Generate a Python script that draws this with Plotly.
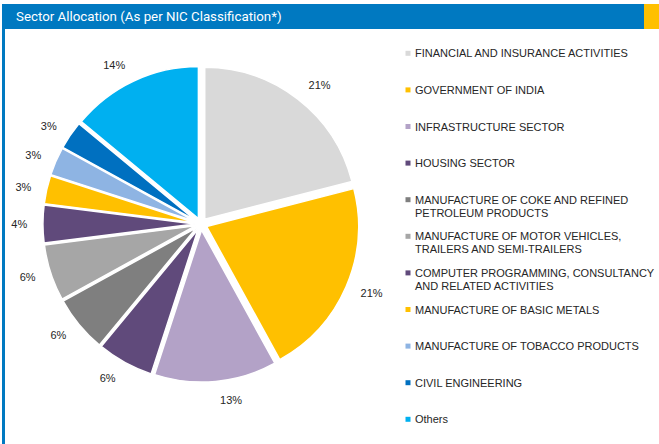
import plotly.graph_objects as go

# Sector allocation data (percent of portfolio)
sectors = [
    "FINANCIAL AND INSURANCE ACTIVITIES",
    "GOVERNMENT OF INDIA",
    "INFRASTRUCTURE SECTOR",
    "HOUSING SECTOR",
    "MANUFACTURE OF COKE AND REFINED<br>PETROLEUM PRODUCTS",
    "MANUFACTURE OF MOTOR VEHICLES,<br>TRAILERS AND SEMI-TRAILERS",
    "COMPUTER PROGRAMMING, CONSULTANCY<br>AND RELATED ACTIVITIES",
    "MANUFACTURE OF BASIC METALS",
    "MANUFACTURE OF TOBACCO PRODUCTS",
    "CIVIL ENGINEERING",
    "Others",
]
shares = [21, 21, 13, 6, 6, 6, 4, 3, 3, 3, 14]
colors = [
    "#D9D9D9", "#FFC000", "#B3A2C7", "#604A7B", "#7F7F7F", "#A6A6A6",
    "#604A7B", "#FFC000", "#8EB4E3", "#0070C0", "#00B0F0",
]

W, H = 659, 444
BLUE = "#0079C1"
TEXT = "#262626"
PULL = 0.04
CX, CY = 201, 224      # pie centre in pixels
R_PIE = 152            # pie radius in pixels
R_TEXT = 164           # radius of the ring the percentage labels sit outside


def px(x):
    return x / W


def py(y):
    return 1 - y / H


def domain_for(radius):
    half = radius * (1 + PULL)
    return dict(x=[px(CX - half), px(CX + half)], y=[py(CY + half), py(CY - half)])


fig = go.Figure()
# coloured slices
fig.add_trace(go.Pie(
    labels=sectors,
    values=shares,
    sort=False,
    direction="clockwise",
    rotation=0,
    marker=dict(colors=colors, line=dict(color="white", width=1.5)),
    pull=[PULL] * len(shares),
    textinfo="none",
    domain=domain_for(R_PIE),
    showlegend=False,
    automargin=False,
    hoverinfo="label+percent",
))
# percentage labels, set slightly further out than the slices
fig.add_trace(go.Pie(
    labels=sectors,
    values=shares,
    sort=False,
    direction="clockwise",
    rotation=0,
    marker=dict(colors=["rgba(0,0,0,0)"] * len(shares), line=dict(width=0)),
    pull=[PULL] * len(shares),
    textinfo="percent",
    textposition="outside",
    textfont=dict(family="Liberation Sans, Arial", size=11, color=TEXT),
    domain=domain_for(R_TEXT),
    showlegend=False,
    automargin=False,
    hoverinfo="skip",
))

shapes = [
    # header bar
    dict(type="rect", xref="paper", yref="paper", x0=px(2), x1=px(644),
         y0=py(29), y1=py(4), fillcolor=BLUE, line=dict(width=0), layer="below"),
    dict(type="rect", xref="paper", yref="paper", x0=px(644), x1=px(659),
         y0=py(29), y1=py(4), fillcolor="#FFC000", line=dict(width=0), layer="below"),
    # left frame line
    dict(type="rect", xref="paper", yref="paper", x0=px(2), x1=px(5),
         y0=py(444), y1=py(29), fillcolor=BLUE, line=dict(width=0), layer="below"),
]

annotations = [
    dict(text="Sector Allocation (As per NIC Classification*)",
         xref="paper", yref="paper", x=px(14), y=py(17), xanchor="left",
         yanchor="middle", showarrow=False,
         font=dict(family="Roboto", size=13.3, color="white")),
]

# legend, drawn as rows of square swatch + text
first_row = 53.3
row_step = 36.6
line_step = 12.8
for i, (name, col) in enumerate(zip(sectors, colors)):
    yc = first_row + i * row_step
    shapes.append(dict(type="rect", xref="paper", yref="paper",
                       x0=px(405.5), x1=px(410.5), y0=py(yc + 2.5), y1=py(yc - 2.5),
                       fillcolor=col, line=dict(width=0)))
    for j, part in enumerate(name.split("<br>")):
        annotations.append(dict(
            text=part, xref="paper", yref="paper", x=px(413.5),
            y=py(yc + j * line_step), xanchor="left", yanchor="middle",
            showarrow=False, borderpad=0,
            font=dict(family="Liberation Sans, Arial", size=11, color=TEXT)))

fig.update_layout(
    width=W, height=H,
    margin=dict(l=0, r=0, t=0, b=0, pad=0, autoexpand=False),
    showlegend=False,
    paper_bgcolor="white",
    plot_bgcolor="white",
    shapes=shapes,
    annotations=annotations,
)

fig.write_html("out.html")
